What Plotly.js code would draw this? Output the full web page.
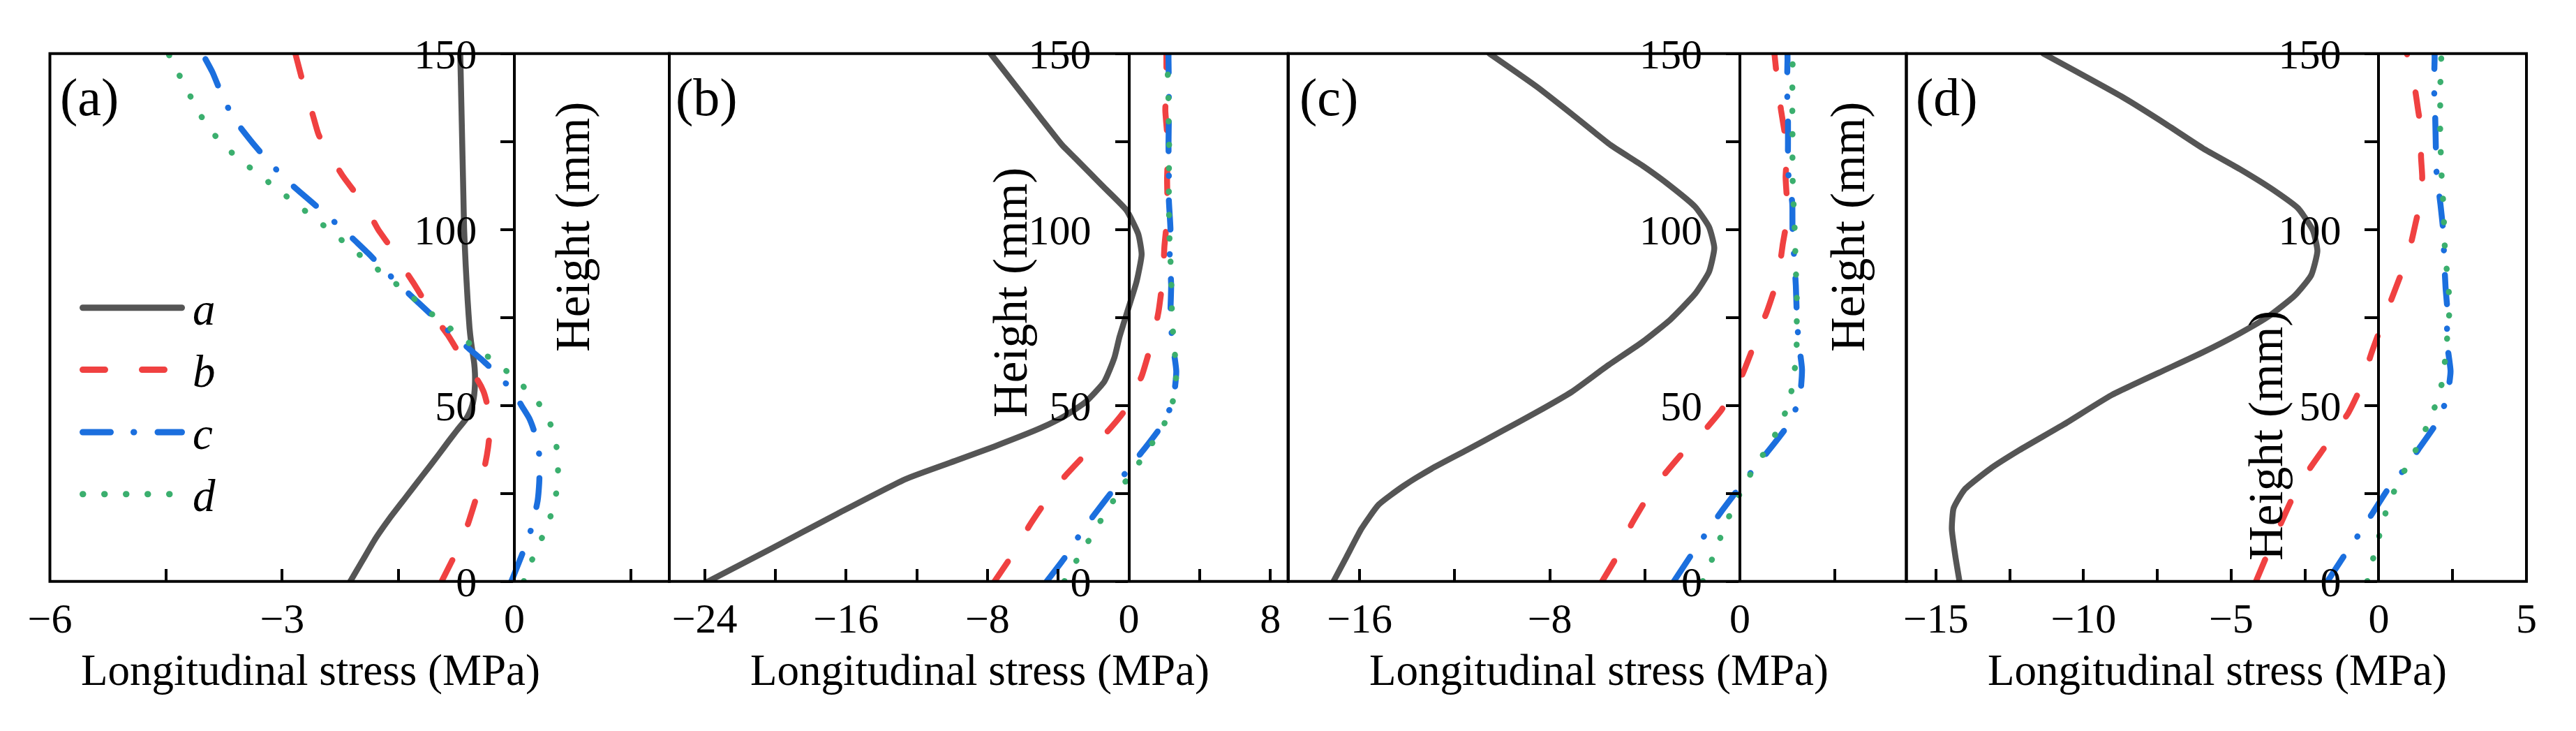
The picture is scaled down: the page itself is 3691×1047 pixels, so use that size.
<!DOCTYPE html>
<html><head><meta charset="utf-8">
<script src="https://cdn.plot.ly/plotly-3.0.1.min.js"></script>
<style>
html,body{margin:0;padding:0;background:#fff;}
#chart{width:3691px;height:1047px;}
.js-line{stroke-linecap:round;stroke-linejoin:round;}
.shapelayer path{stroke-linecap:round;}
</style></head><body><div id="chart"></div>
<script>
// ---------- DATA (height in mm, longitudinal stress in MPa) ----------
// Panel (a)
const pA_a_h = [0, 6, 12, 18, 24, 30, 36, 40, 43, 46, 48, 50, 53, 56, 59, 62, 65, 68, 72, 80, 90, 100, 110, 120, 130, 140, 150];
const pA_a_x = [-2.12, -1.96, -1.80, -1.61, -1.40, -1.19, -0.98, -0.845, -0.74, -0.63, -0.58, -0.545, -0.52, -0.51, -0.51, -0.52, -0.54, -0.56, -0.58, -0.605, -0.63, -0.65, -0.66, -0.67, -0.68, -0.69, -0.70];
const pA_b_h = [0, 7, 12, 17, 24, 30, 36, 40, 44, 48, 51, 54, 57, 60, 65, 70, 76, 80, 85, 91, 95, 100, 106, 110, 115, 121, 127, 133, 140, 150];
const pA_b_x = [-0.94, -0.78, -0.67, -0.59, -0.49, -0.41, -0.355, -0.33, -0.32, -0.335, -0.36, -0.40, -0.47, -0.575, -0.72, -0.86, -1.06, -1.17, -1.31, -1.49, -1.60, -1.76, -1.91, -2.04, -2.21, -2.38, -2.53, -2.61, -2.71, -2.83];
const pA_c_h = [0, 8.2, 15.4, 23, 28, 32, 36, 39.4, 43, 46.4, 50, 53.4, 58.1, 62.6, 68.4, 72.5, 77.4, 83.7, 88.6, 93.3, 99, 103.3, 107.9, 113.6, 118.3, 123.5, 131.4, 137.8, 144.7, 150];
const pA_c_x = [-0.04, 0.108, 0.224, 0.30, 0.32, 0.325, 0.32, 0.29, 0.25, 0.19, 0.09, 0.0, -0.186, -0.40, -0.708, -0.915, -1.152, -1.458, -1.684, -1.891, -2.164, -2.384, -2.623, -2.923, -3.13, -3.34, -3.62, -3.77, -3.90, -4.03];
const pA_d_h = [0, 6.2, 12.6, 19.2, 25.9, 32.9, 39.7, 45.5, 50.6, 55.2, 59.6, 63.5, 67.1, 70.9, 74.9, 79, 82.8, 86.8, 90.7, 94.9, 98.8, 102.8, 107.1, 111.1, 118.9, 123.4, 128.1, 133.4, 139.8, 145.6, 150];
const pA_d_x = [0.12, 0.229, 0.36, 0.477, 0.546, 0.564, 0.534, 0.45, 0.313, 0.124, -0.093, -0.319, -0.549, -0.769, -1.008, -1.224, -1.431, -1.657, -1.884, -2.114, -2.333, -2.557, -2.81, -3.04, -3.49, -3.73, -3.92, -4.08, -4.23, -4.37, -4.47];
// Panel (b)
const pB_a_h = [0, 9.1, 19.3, 29.1, 34.4, 38.3, 43.7, 47.1, 51, 56.8, 63.6, 69.5, 77.3, 85.1, 92.9, 98.7, 105.5, 112.4, 120.2, 124.1, 131.4, 140.1, 150];
const pB_a_x = [-23.8, -20.3, -16.46, -12.62, -9.74, -7.63, -4.94, -3.6, -2.45, -1.39, -0.82, -0.53, -0.05, 0.43, 0.72, 0.53, -0.14, -1.49, -3.02, -3.79, -4.94, -6.29, -7.82];
const pB_b_h = [0, 6.2, 10, 15.9, 21.7, 26, 30, 35.4, 39, 43, 48.1, 53, 58.3, 65.6, 71, 76.8, 84.1, 90, 95.3, 103.1, 108, 114.3, 122.1, 128, 133.8, 141.6, 150];
const pB_b_x = [-7.6, -6.77, -6.3, -5.62, -4.85, -4.2, -3.6, -2.6, -1.9, -1.14, -0.30, 0.2, 0.72, 1.16, 1.45, 1.68, 1.87, 1.96, 2.01, 2.16, 2.18, 2.16, 2.2, 2.15, 2.06, 2.12, 2.12];
const pB_c_h = [0, 7.6, 13.2, 19.3, 27.1, 32.3, 37.3, 45.1, 51.8, 59.7, 68.5, 75.8, 84.1, 93, 100.2, 108.4, 115.7, 124.1, 131.9, 140.7, 148.4, 150];
const pB_c_x = [-4.65, -3.5, -2.79, -1.91, -0.72, 0.01, 0.82, 1.97, 2.51, 2.68, 2.45, 2.35, 2.39, 2.31, 2.35, 2.26, 2.26, 2.24, 2.26, 2.26, 2.24, 2.24];
const pB_d_h = [0, 6.2, 11.8, 17.9, 23.5, 28.8, 34.4, 40.3, 46.3, 53.4, 60.2, 67.1, 74.2, 81, 87.8, 94.8, 101.7, 108.4, 115.5, 122.3, 129.3, 136.2, 143.6, 150];
const pB_d_x = [-3.65, -2.93, -2.25, -1.52, -0.81, -0.14, 0.67, 1.45, 2.16, 2.6, 2.68, 2.55, 2.45, 2.41, 2.39, 2.31, 2.28, 2.26, 2.26, 2.28, 2.25, 2.24, 2.2, 2.2];
// Panel (c)
const pC_a_h = [0, 7, 14.9, 21.8, 27.1, 32, 37.3, 42.7, 48.1, 53.9, 61.2, 68, 74.4, 81.7, 88, 94.8, 100.7, 106.5, 112.4, 118.2, 124, 132.8, 140.6, 150];
const pC_a_x = [-17.1, -16.55, -15.93, -15.2, -14.16, -12.98, -11.5, -10.02, -8.55, -7.07, -5.59, -4.11, -2.93, -1.89, -1.3, -1.08, -1.3, -1.89, -2.93, -4.11, -5.44, -7.07, -8.55, -10.54];
const pC_b_h = [0, 6.6, 11, 15.9, 21.7, 26, 30, 35.4, 39, 43, 48.6, 53, 58.8, 65.6, 71, 76.8, 84.1, 90, 95.8, 103.1, 109, 114.8, 122.6, 128, 133.8, 141.6, 150];
const pC_b_x = [-5.8, -5.22, -4.9, -4.59, -4.09, -3.7, -3.23, -2.56, -2.05, -1.48, -0.79, -0.4, 0.1, 0.5, 0.8, 1.14, 1.5, 1.68, 1.80, 1.98, 1.97, 1.92, 1.98, 1.87, 1.73, 1.58, 1.45];
const pC_c_h = [0, 7.6, 13.8, 19.8, 27.4, 32.3, 37.8, 44.9, 52.1, 60.2, 68.5, 76.1, 84.1, 92.9, 100.2, 107.5, 116.8, 124, 131.4, 140.6, 148.2, 150];
const pC_c_x = [-2.78, -2.04, -1.41, -0.79, 0.06, 0.62, 1.28, 2.07, 2.51, 2.61, 2.46, 2.39, 2.35, 2.27, 2.21, 2.2, 2.02, 2.02, 2.02, 1.98, 2.0, 2.0];
const pC_d_h = [0, 6.2, 11.8, 18, 23.9, 30, 35.9, 41.7, 47.9, 54.2, 61.2, 68, 74.8, 81.7, 88.7, 95.6, 102.4, 109.4, 116.3, 123.3, 130.1, 136.9, 144, 150];
const pC_d_x = [-1.57, -1.18, -0.86, -0.49, -0.08, 0.4, 0.96, 1.48, 1.9, 2.17, 2.32, 2.39, 2.39, 2.39, 2.35, 2.32, 2.29, 2.24, 2.21, 2.21, 2.21, 2.2, 2.21, 2.22];
// Panel (d)
const pD_a_h = [0, 7.1, 14.9, 20.8, 26.1, 32, 37.3, 44.6, 52.9, 59.3, 65.1, 70.5, 75.4, 81.2, 87, 93.9, 99.7, 106, 111.4, 117.2, 123.1, 129.9, 137.7, 150];
const pD_a_x = [-14.2, -14.34, -14.46, -14.4, -14.03, -13.16, -12.17, -10.67, -9.06, -7.45, -5.96, -4.71, -3.72, -2.85, -2.29, -2.08, -2.23, -2.73, -3.6, -4.71, -5.96, -7.2, -8.69, -11.36];
const pD_b_h = [0, 6.2, 11, 16.4, 22.9, 27, 32.3, 37.8, 43, 47.9, 53.9, 60, 65.6, 72.2, 78, 83.1, 89.5, 95, 101.6, 109, 115, 120.6, 128.4, 134, 140.2, 147.4, 150];
const pD_b_x = [-4.16, -3.85, -3.6, -3.32, -2.97, -2.7, -2.32, -1.86, -1.43, -1.03, -0.68, -0.44, -0.22, 0.07, 0.33, 0.56, 0.85, 1.06, 1.24, 1.43, 1.47, 1.43, 1.43, 1.33, 1.22, 1.02, 0.95];
const pD_c_h = [0, 8.1, 13.8, 19.3, 27.1, 32.3, 37.5, 44.9, 51.9, 59.7, 68.5, 76.1, 83.6, 92.4, 99.7, 107, 116.8, 124, 131.9, 141.1, 148.4, 150];
const pD_c_x = [-1.74, -1.11, -0.64, -0.22, 0.38, 0.91, 1.34, 1.95, 2.3, 2.43, 2.3, 2.33, 2.26, 2.21, 2.18, 2.09, 1.95, 1.93, 1.91, 1.87, 1.89, 1.89];
const pD_d_h = [0, 6.9, 13.7, 20, 26.6, 32.6, 38.3, 44.3, 51, 57.8, 64.6, 71.4, 78.4, 85.3, 92.1, 98.9, 105.7, 112.6, 119.4, 126.2, 133.1, 140.1, 147.2, 150];
const pD_d_x = [-0.39, -0.18, 0.04, 0.25, 0.57, 0.94, 1.31, 1.64, 1.96, 2.18, 2.26, 2.34, 2.4, 2.34, 2.26, 2.21, 2.2, 2.14, 2.11, 2.08, 2.08, 2.08, 2.11, 2.12];

const seriesNames = ['a', 'b', 'c', 'd'];
const panelLabels = ['(a)', '(b)', '(c)', '(d)'];
const xTitle = 'Longitudinal stress (MPa)';
const yTitle = 'Height (mm)';
const heightTicks = [0, 50, 100, 150];

// ---------- LAYOUT CONFIG ----------
const W = 3691, H = 1047;
const plotTop = 76.8, plotBottom = 832.7;
const panelEdges = [[71.5, 959], [959, 1845.5], [1846, 2731.5], [2731.5, 3620]];
const xRanges = [[-6, 2], [-26, 9], [-19, 7], [-16, 5]];
const xDticks = [3, 8, 8, 5];
const labelLeft = [84, 966, 1860, 2743];
const xTitleCenter = [445, 1404, 2291, 3177];
const yTitlePos = [[821, 325], [1448, 419], [2648, 325], [3247, 624]];
const legendRows = [440.7, 529.5, 619, 707.8];

const colors = {a: '#555555', b: '#F04141', c: '#1B6FDE', d: '#3BAF6E'};
const plotDash = {a: 'solid', b: '34px,56px', c: '42px,35px,0.5px,35px', d: '0.5px,33px'};
const legDash = {a: 'solid', b: '32px,53px', c: '40px,33px,0.5px,34px', d: '0.5px,30.5px'};
const FONT = 'Liberation Serif, Times New Roman, serif';

const seriesData = [
  [[pA_a_h, pA_a_x], [pA_b_h, pA_b_x], [pA_c_h, pA_c_x], [pA_d_h, pA_d_x]],
  [[pB_a_h, pB_a_x], [pB_b_h, pB_b_x], [pB_c_h, pB_c_x], [pB_d_h, pB_d_x]],
  [[pC_a_h, pC_a_x], [pC_b_h, pC_b_x], [pC_c_h, pC_c_x], [pC_d_h, pC_d_x]],
  [[pD_a_h, pD_a_x], [pD_b_h, pD_b_x], [pD_c_h, pD_c_x], [pD_d_h, pD_d_x]]
];

const traces = [];
const layout = {
  width: W, height: H,
  margin: {l: 0, r: 0, t: 0, b: 0, pad: 0},
  paper_bgcolor: '#ffffff', plot_bgcolor: 'rgba(0,0,0,0)',
  showlegend: false,
  font: {family: FONT, color: '#000'},
  shapes: [], annotations: []
};

const yDom = [1 - plotBottom / H, 1 - plotTop / H];

for (let p = 0; p < 4; p++) {
  const sfx = p === 0 ? '' : String(p + 1);
  const xa = 'x' + sfx, ya = 'y' + sfx;
  const d0 = panelEdges[p][0] / W, d1 = panelEdges[p][1] / W;
  const r = xRanges[p];
  const yPos = d0 + (0 - r[0]) / (r[1] - r[0]) * (d1 - d0);
  layout['xaxis' + sfx] = {
    domain: [d0, d1], range: r, anchor: ya,
    showgrid: false, zeroline: false, showline: false,
    ticks: 'inside', ticklen: 18, tickwidth: 4, tickcolor: '#000',
    tick0: 0, dtick: xDticks[p],
    minor: {dtick: xDticks[p] / 2, ticks: 'inside', ticklen: 18, tickwidth: 4, tickcolor: '#000', showgrid: false},
    tickfont: {family: FONT, size: 60, color: '#000'},
    ticklabelstandoff: 12,
    fixedrange: true
  };
  layout['yaxis' + sfx] = {
    domain: yDom, range: [0, 150], anchor: 'free', position: yPos,
    showgrid: false, zeroline: false,
    showline: true, linewidth: 4, linecolor: '#000',
    ticks: 'outside', ticklen: 18, tickwidth: 4, tickcolor: '#000',
    tickvals: heightTicks, ticktext: heightTicks.map(String),
    minor: {dtick: 25, ticks: 'outside', ticklen: 18, tickwidth: 4, tickcolor: '#000', showgrid: false},
    tickfont: {family: FONT, size: 60, color: '#000'},
    ticklabelstandoff: 22,
    fixedrange: true
  };
  // frame
  layout.shapes.push({type: 'rect', xref: xa + ' domain', yref: ya + ' domain', x0: 0, x1: 1, y0: 0, y1: 1,
    line: {color: '#000', width: 4}, fillcolor: 'rgba(0,0,0,0)', layer: 'above'});
  // traces
  seriesData[p].forEach((s, k) => {
    const key = seriesNames[k];
    traces.push({
      type: 'scatter', mode: 'lines', x: s[1], y: s[0], xaxis: xa, yaxis: ya,
      line: {color: colors[key], width: 8.5, dash: plotDash[key], shape: 'spline', smoothing: 0.5},
      hoverinfo: 'skip', showlegend: false, name: key
    });
  });
  // panel label
  layout.annotations.push({text: panelLabels[p], xref: 'paper', yref: 'paper',
    x: labelLeft[p] / W, y: 1 - 139 / H, xanchor: 'left', yanchor: 'middle', showarrow: false,
    font: {family: FONT, size: 76, color: '#000'}});
  // x title
  layout.annotations.push({text: xTitle, xref: 'paper', yref: 'paper',
    x: xTitleCenter[p] / W, y: 1 - 960 / H, xanchor: 'center', yanchor: 'middle', showarrow: false,
    font: {family: FONT, size: 63, color: '#000'}});
  // y title
  layout.annotations.push({text: yTitle, xref: 'paper', yref: 'paper', textangle: -90,
    x: yTitlePos[p][0] / W, y: 1 - yTitlePos[p][1] / H, xanchor: 'center', yanchor: 'middle', showarrow: false,
    font: {family: FONT, size: 69, color: '#000'}});
}

// legend (inside panel a)
seriesNames.forEach((key, k) => {
  const yy = 1 - legendRows[k] / H;
  layout.shapes.push({type: 'line', xref: 'paper', yref: 'paper', x0: 118.5 / W, x1: 260.5 / W, y0: yy, y1: yy,
    line: {color: colors[key], width: 9, dash: legDash[key]}, layer: 'above'});
  layout.annotations.push({text: '<i>' + key + '</i>', xref: 'paper', yref: 'paper',
    x: 274 / W, y: 1 - (legendRows[k] + 2) / H, xanchor: 'left', yanchor: 'middle', showarrow: false,
    font: {family: FONT, size: 65, color: '#000'}});
});

Plotly.newPlot('chart', traces, layout, {staticPlot: true, displayModeBar: false});
</script></body></html>
